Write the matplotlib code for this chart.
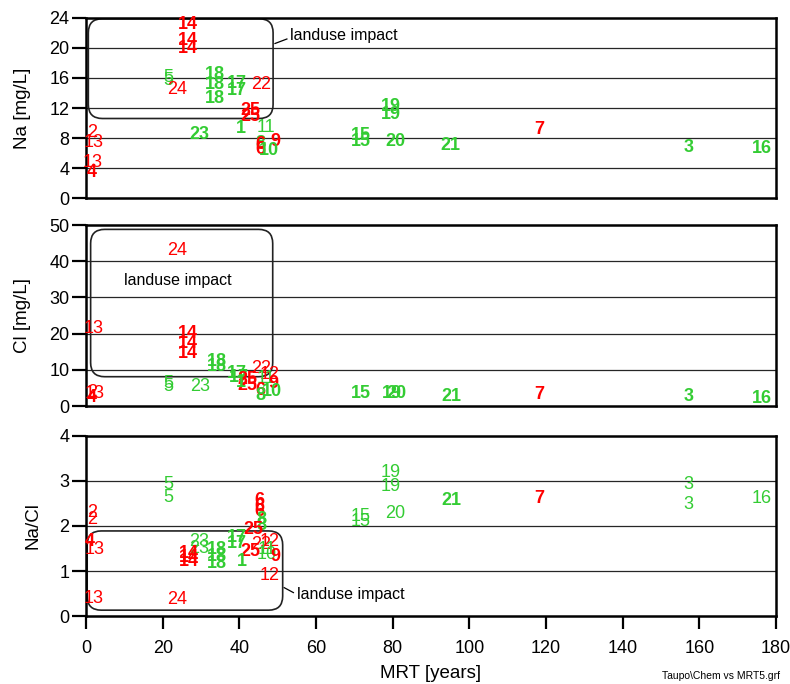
import numpy as np
import matplotlib.pyplot as plt
from matplotlib.patches import FancyBboxPatch

plt.rcParams['font.family'] = ['Liberation Sans', 'DejaVu Sans']

# Na [mg/L] vs MRT
na_sites = ['14', '14', '14', '5', '5', '24', '18', '18', '18', '17', '17', '22',
            '25', '25', '1', '11', '23', '8', '6', '6', '9', '10', '2', '13', '13', '4',
            '15', '15', '19', '19', '20', '21', '7', '3', '16']
na_mrt = [26.6, 26.6, 26.6, 21.4, 21.4, 23.7, 33.7, 33.7, 33.7, 39.3, 39.3, 45.6,
          42.8, 42.8, 40.4, 46.9, 29.6, 45.4, 45.4, 45.4, 49.3, 47.6, 1.5, 1.9, 1.7, 1.5,
          71.7, 71.7, 79.6, 79.6, 80.6, 95.0, 118.2, 157.1, 176.3]
na_vals = [23.1, 21.0, 19.9, 16.1, 15.6, 14.5, 16.4, 15.1, 13.3, 15.3, 14.3, 15.1,
           11.7, 10.9, 9.3, 9.4, 8.5, 7.3, 7.2, 6.5, 7.5, 6.3, 8.8, 7.4, 4.8, 3.4,
           8.4, 7.6, 12.2, 11.2, 7.6, 7.0, 9.1, 6.8, 6.6]

# Cl [mg/L] vs MRT
cl_sites = ['24', '13', '13', '14', '14', '14', '18', '18', '17', '17', '22', '25',
            '25', '12', '11', '1', '9', '6', '8', '10', '5', '5', '23', '2', '4',
            '15', '19', '20', '21', '7', '3', '16']
cl_mrt = [23.7, 1.9, 2.2, 26.6, 26.6, 26.6, 34.1, 34.1, 39.3, 40.0, 45.8, 42.0,
          42.0, 48.0, 47.0, 40.5, 49.0, 45.4, 45.4, 48.4, 21.5, 21.5, 29.7, 1.5, 1.5,
          71.7, 79.7, 81.0, 95.4, 118.2, 157.1, 176.3]
cl_vals = [42.9, 21.3, 3.4, 20.0, 17.3, 14.6, 12.2, 11.0, 9.0, 7.8, 10.4, 7.4,
           5.7, 8.8, 7.5, 6.6, 6.3, 4.2, 3.0, 4.0, 6.2, 5.5, 5.3, 3.8, 2.3,
           3.5, 3.5, 3.5, 2.6, 3.2, 2.6, 2.1]

# Na/Cl vs MRT
nacl_sites = ['5', '5', '2', '2', '4', '13', '13', '24', '6', '6', '6', '8', '8',
              '25', '25', '17', '17', '1', '23', '23', '14', '14', '14', '18', '18', '18',
              '22', '12', '12', '11', '10', '9',
              '19', '19', '15', '15', '20', '21', '7', '3', '3', '16']
nacl_mrt = [21.5, 21.5, 1.7, 1.7, 1.0, 2.3, 1.9, 23.7, 45.1, 45.1, 45.1, 45.7, 45.7,
            43.7, 42.8, 39.3, 39.3, 40.6, 29.6, 29.6, 26.7, 26.7, 26.7, 34.1, 34.1, 34.1,
            45.6, 47.8, 47.8, 47.1, 47.0, 49.3,
            79.6, 79.6, 71.7, 71.7, 80.6, 95.4, 118.2, 157.1, 157.1, 176.3]
nacl_vals = [2.93, 2.63, 2.30, 2.15, 1.65, 1.48, 0.38, 0.36, 2.56, 2.43, 2.33, 2.15, 2.02,
             1.93, 1.43, 1.75, 1.62, 1.21, 1.65, 1.50, 1.39, 1.30, 1.21, 1.47, 1.32, 1.17,
             1.59, 1.65, 0.91, 1.47, 1.36, 1.32,
             3.18, 2.87, 2.22, 2.10, 2.28, 2.56, 2.62, 2.93, 2.47, 2.62]

red_sites = {'2', '4', '6', '7', '9', '12', '13', '14', '22', '24', '25'}
thin_sites = {'2', '5', '11', '12', '13', '22', '24'}
thin_extra = [set(), {'23'}, {'3', '10', '11', '15', '16', '19', '20', '23'}]

RED = '#ff0000'
GREEN = '#33cc33'

fig = plt.figure(figsize=(7.9, 6.84), dpi=100)
left, width = 0.1089, 0.8734
boxes = [[left, 0.7105, width, 0.2632],
         [left, 0.4064, width, 0.2646],
         [left, 0.0994, width, 0.2632]]

panels = [(na_sites, na_mrt, na_vals, 24, 4, 'Na [mg/L]'),
          (cl_sites, cl_mrt, cl_vals, 50, 10, 'Cl [mg/L]'),
          (nacl_sites, nacl_mrt, nacl_vals, 4, 1, 'Na/Cl')]

axes = []
for i, (sites, xs, ys, ymax, step, ylab) in enumerate(panels):
    ax = fig.add_axes(boxes[i])
    ax.set_xlim(0, 180)
    ax.set_ylim(0, ymax)
    ax.set_yticks(np.arange(0, ymax + step / 2, step))
    ax.set_xticks(np.arange(0, 181, 20))
    for y in np.arange(step, ymax, step):
        ax.axhline(y, color='0.15', lw=0.9, zorder=1)
    for s in ax.spines.values():
        s.set_linewidth(1.8)
    ax.tick_params(axis='y', direction='out', length=10, width=1.6, labelsize=13, pad=2)
    ax.tick_params(axis='x', direction='out', length=9, width=1.6, labelsize=13, pad=8)
    if i < 2:
        ax.tick_params(axis='x', bottom=False, labelbottom=False)
    ax.set_ylabel(ylab, fontsize=13.5, labelpad=13)
    for s, x, y in zip(sites, xs, ys):
        c = RED if s in red_sites else GREEN
        w = 'normal' if (s in thin_sites or s in thin_extra[i]) else 'bold'
        ax.text(x, y, s, color=c, fontsize=13, fontweight=w,
                ha='center', va='center', zorder=3)
    axes.append(ax)

axes[2].set_xlabel('MRT [years]', fontsize=13.5, labelpad=6)

# landuse impact boxes
fig.canvas.draw()


def landuse_box(ax, x0, y0, x1, y1, r_px=14):
    bb = ax.get_window_extent()
    xl, yl = ax.get_xlim(), ax.get_ylim()
    xu = (xl[1] - xl[0]) / bb.width
    yu = (yl[1] - yl[0]) / bb.height
    p = FancyBboxPatch((x0, y0), x1 - x0, y1 - y0,
                       boxstyle='round,pad=0,rounding_size=%f' % (r_px * xu),
                       mutation_aspect=yu / xu, fc='none', ec='#222222', lw=1.2, zorder=2)
    ax.add_patch(p)


landuse_box(axes[0], 0.6, 10.6, 48.8, 23.9)
landuse_box(axes[1], 1.2, 8.1, 48.7, 48.8)
landuse_box(axes[2], 0.3, 0.13, 51.3, 1.89)

axes[0].plot([49.3, 52.4], [20.6, 21.2], color='k', lw=0.9)
axes[0].text(53.3, 21.7, 'landuse impact', fontsize=11.5, va='center', ha='left')
axes[1].text(23.9, 34.8, 'landuse impact', fontsize=11.5, va='center', ha='center')
axes[2].plot([51.7, 54.1], [0.63, 0.52], color='k', lw=0.9)
axes[2].text(55.0, 0.47, 'landuse impact', fontsize=11.5, va='center', ha='left')

fig.text(0.987, 1 - 676 / 684, 'Taupo\\Chem vs MRT5.grf', fontsize=7.5,
         ha='right', va='center')

fig.savefig('out.png', dpi=100)
